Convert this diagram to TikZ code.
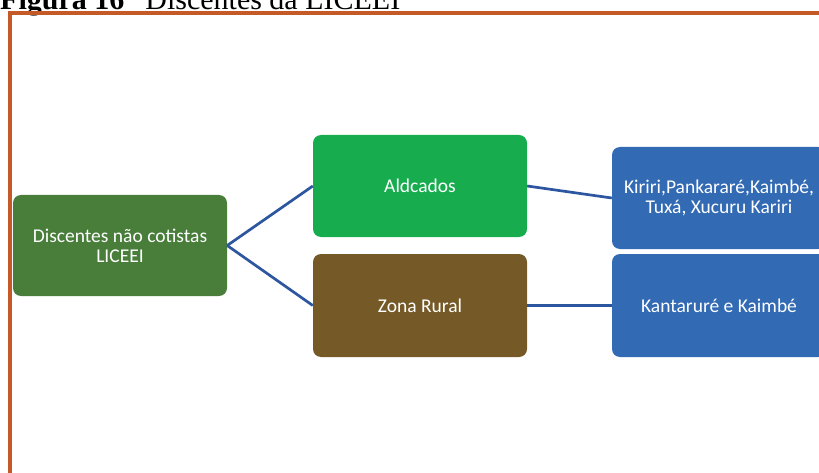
\documentclass[tikz,border=0pt]{standalone}
\usepackage{fontspec}
\setmainfont{Liberation Serif}
\newfontfamily\cardfont{Carlito}
\definecolor{framered}{RGB}{197,90,40}
\definecolor{rootgreen}{RGB}{72,126,58}
\definecolor{villagegreen}{RGB}{23,173,78}
\definecolor{ruralbrown}{RGB}{117,90,39}
\definecolor{peopleblue}{RGB}{50,106,180}
\definecolor{linkblue}{RGB}{44,86,160}
\begin{document}
\begin{tikzpicture}[x=1pt,y=-1pt,
  card/.style={rounded corners=8pt, minimum width=214pt, minimum height=102pt,
    inner sep=0pt, align=center, text=white,
    font=\cardfont\fontsize{19.5}{20}\selectfont},
  link/.style={draw=linkblue, line width=2.7pt}]
\useasboundingbox (0,0) rectangle (819,473);
\clip (0,0) rectangle (819,473);

% caption above the frame
\node[anchor=base west, inner sep=0pt, font=\fontsize{30}{30}\selectfont]
  (title) at (0,9.5) {\textbf{Figura 16}\hspace{0.7em}Discentes da LICEEI};

% frame
\draw[framered, line width=4pt] (10,473) -- (10,13) -- (825,13);

% boxes
\node[card, fill=rootgreen, minimum height=101pt] (root) at (120,245.5)
  {Discentes não cotistas\\ LICEEI};
\node[card, fill=villagegreen] (ald) at (420,186) {Aldcados};
\node[card, fill=ruralbrown, minimum height=103pt] (rural) at (420,305.5) {Zona Rural};
\node[card, fill=peopleblue] (kir) at (719,198)
  {Kiriri,Pankararé,Kaimbé,\\Tuxá, Xucuru Kariri};
\node[card, fill=peopleblue, minimum height=103pt] (kan) at (719,305.5)
  {Kantaruré e Kaimbé};

% connectors
\draw[link] (root.east) -- (ald.west);
\draw[link] (root.east) -- (rural.west);
\draw[link] (ald.east) -- (kir.west);
\draw[link] (rural.east) -- (kan.west);
\end{tikzpicture}
\end{document}
